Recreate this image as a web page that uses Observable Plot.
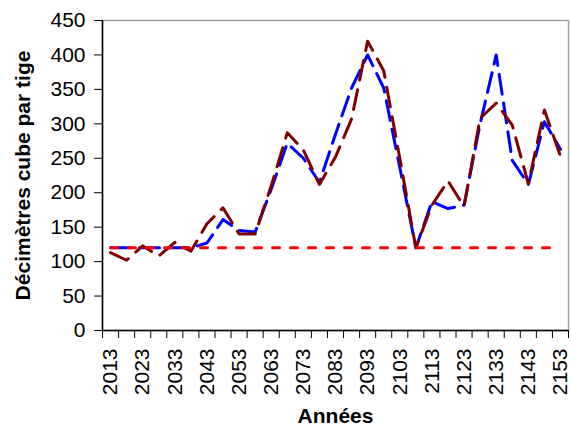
<!DOCTYPE html>
<html>
<head>
<meta charset="utf-8">
<script src="https://cdn.jsdelivr.net/npm/d3@7"></script>
<script src="https://cdn.jsdelivr.net/npm/@observablehq/plot@0.6"></script>
<style>
  html, body { margin: 0; padding: 0; background: white; }
</style>
</head>
<body>
<div id="chart"></div>
<script>
const years = [2013, 2018, 2023, 2028, 2033, 2038, 2043, 2048, 2053, 2058,
               2063, 2068, 2073, 2078, 2083, 2088, 2093, 2098, 2103, 2108,
               2113, 2118, 2123, 2128, 2133, 2138, 2143, 2148, 2153];
const blueSeries = [120, 120, 120, 120, 120, 120, 127, 161, 145, 143,
                    205, 272, 250, 215, 285, 352, 400, 352, 237, 120,
                    187, 177, 182, 300, 400, 247, 212, 303, 263];
const darkRedSeries = [113, 102, 123, 108, 128, 115, 155, 178, 140, 140,
                       210, 287, 262, 212, 252, 307, 420, 377, 250, 120,
                       182, 217, 180, 308, 330, 298, 213, 320, 253];
const thresholdSeries = years.map(() => 120);
const xTickLabels = [2013, 2023, 2033, 2043, 2053, 2063, 2073, 2083, 2093, 2103, 2113, 2123, 2133, 2143, 2153];
const yTicks = [0, 50, 100, 150, 200, 250, 300, 350, 400, 450];
const xTitle = "Années";
const yTitle = "Décimètres cube par tige";

const step = years[1] - years[0];
const xDomain = [years[0] - step / 2, years[years.length - 1] + step / 2];
const boundaries = years.map(y => y - step / 2).concat([xDomain[1]]);

const rows = (vals) => years.map((year, i) => ({year, value: vals[i]}));
const font = "'Liberation Sans', Arial, sans-serif";

const chart = Plot.plot({
  width: 571,
  height: 428,
  marginLeft: 102,
  marginRight: 3,
  marginTop: 20,
  marginBottom: 98,
  style: {fontFamily: font, fontSize: "21px", color: "black", background: "white"},
  x: {type: "linear", domain: xDomain},
  y: {domain: [0, 450]},
  marks: [
    Plot.frame({stroke: "#a0a0a0", strokeWidth: 1.5}),
    Plot.line(rows(blueSeries), {x: "year", y: "value", stroke: "#0000ff", strokeWidth: 3, strokeDasharray: "20,9"}),
    Plot.line(rows(darkRedSeries), {x: "year", y: "value", stroke: "#800000", strokeWidth: 3, strokeDasharray: "20,10"}),
    Plot.line(rows(thresholdSeries), {x: "year", y: "value", stroke: "#ff0000", strokeWidth: 3, strokeDasharray: "7,11"}),
    Plot.ruleX([xDomain[0]], {stroke: "black", strokeWidth: 1.5}),
    Plot.ruleY([0], {stroke: "black", strokeWidth: 1.5}),
    Plot.axisY(yTicks, {tickSize: 8, tickPadding: 9, label: null, fontSize: 21, stroke: "black"}),
    Plot.axisX(boundaries, {tickSize: 8, tickFormat: () => "", label: null, stroke: "black"}),
    Plot.axisX(xTickLabels, {tickSize: 0, tickPadding: 18, tickRotate: -90, tickFormat: d => String(d), label: null, fontSize: 21}),
    Plot.text([xTitle], {frameAnchor: "bottom", dy: 86, text: d => d, fontWeight: "bold", fontSize: 21, lineAnchor: "middle"}),
    Plot.text([yTitle], {frameAnchor: "left", dx: -79, text: d => d, rotate: -90, fontWeight: "bold", fontSize: 21, lineAnchor: "middle", textAnchor: "middle"})
  ]
});
document.getElementById("chart").appendChild(chart);
</script>
</body>
</html>
